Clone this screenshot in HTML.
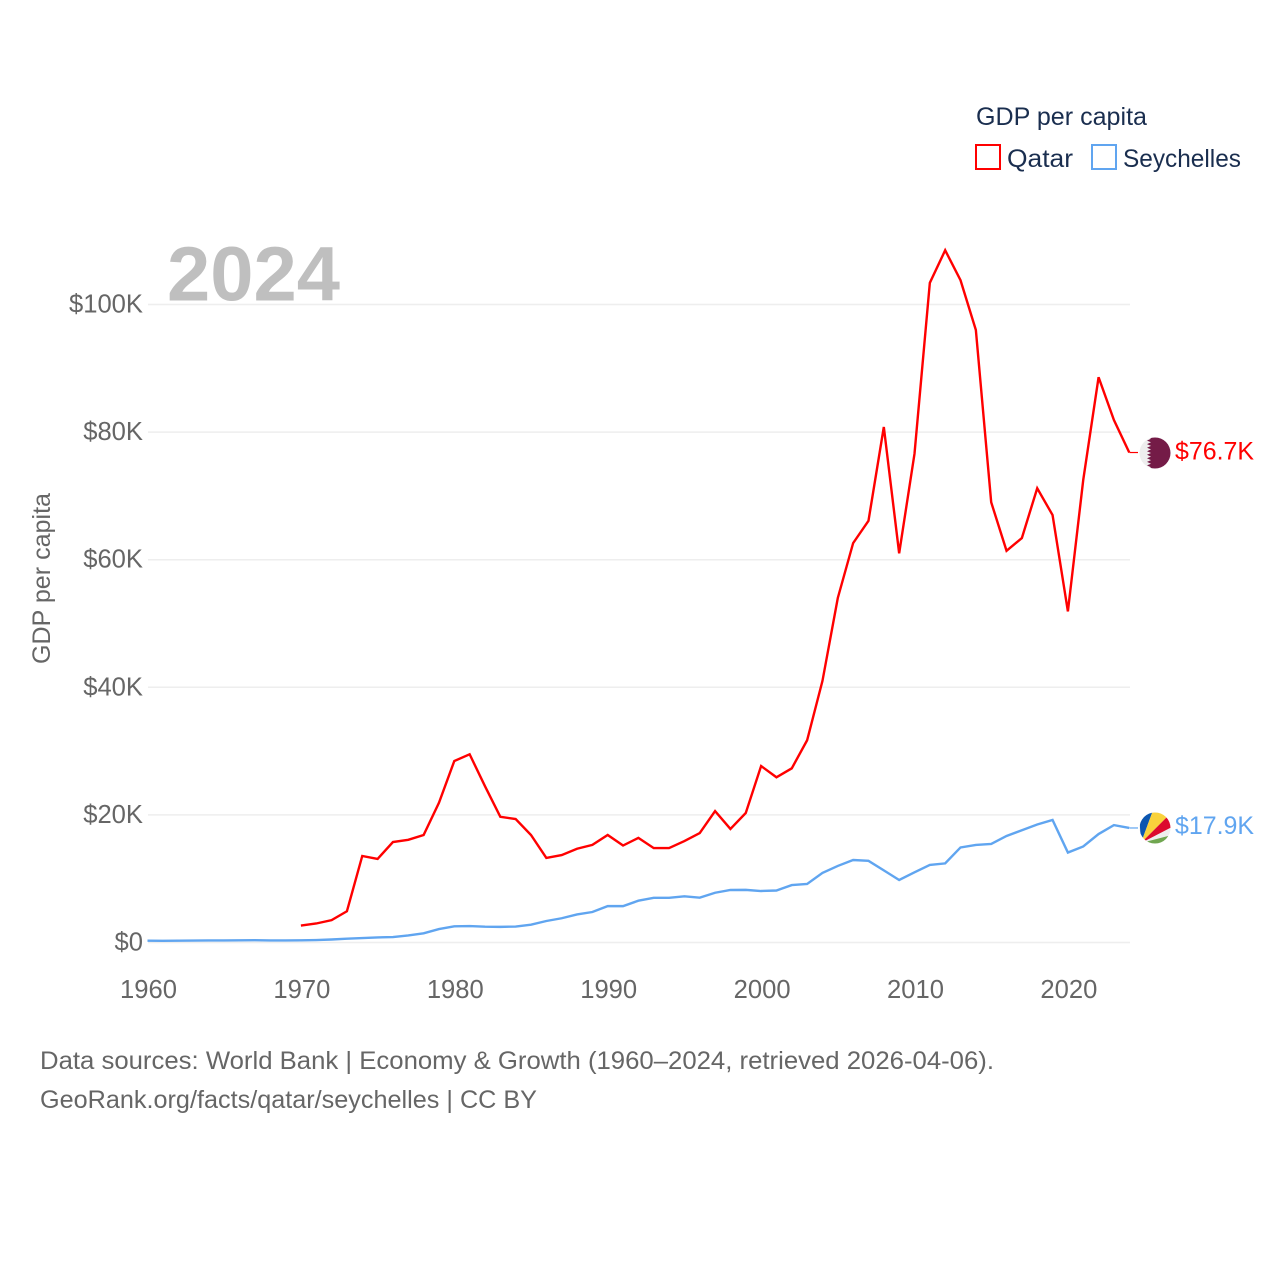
<!DOCTYPE html>
<html lang="en">
<head>
<meta charset="utf-8">
<title>GDP per capita: Qatar and Seychelles</title>
<style>
html,body{margin:0;padding:0;background:#fff;}
svg{display:block;font-family:"Liberation Sans",sans-serif;}
</style>
</head>
<body>
<svg id="chart" width="1280" height="1280" viewBox="0 0 1280 1280" xmlns="http://www.w3.org/2000/svg">
  <defs>
    <clipPath id="clip-qatar"><circle cx="1155" cy="453" r="15.5"/></clipPath>
    <clipPath id="clip-seychelles"><circle cx="1155" cy="828" r="15.5"/></clipPath>
  </defs>
  <rect width="1280" height="1280" fill="#ffffff"/>
  <g id="grid"></g>
  <g id="yticks"></g>
  <g id="xticks"></g>
  <text x="167" y="300.5" font-size="77" font-weight="700" fill="#bfbfbf" textLength="173" lengthAdjust="spacingAndGlyphs">2024</text>
  <text transform="translate(50,578.5) rotate(-90)" text-anchor="middle" font-size="25" fill="#666666" textLength="171" lengthAdjust="spacingAndGlyphs">GDP per capita</text>
  <g id="series"></g>

  <g>
    <text x="976" y="125" font-size="25" fill="#1a2e4f" textLength="171" lengthAdjust="spacingAndGlyphs">GDP per capita</text>
    <rect x="976" y="145" width="24" height="24" fill="none" stroke="#ff0000" stroke-width="2"/>
    <text x="1007" y="167" font-size="25" fill="#1a2e4f" textLength="66" lengthAdjust="spacingAndGlyphs">Qatar</text>
    <rect x="1092" y="145" width="24" height="24" fill="none" stroke="#60a5f0" stroke-width="2"/>
    <text x="1123" y="167" font-size="25" fill="#1a2e4f" textLength="118" lengthAdjust="spacingAndGlyphs">Seychelles</text>
  </g>

  <g clip-path="url(#clip-qatar)">
    <rect x="1139" y="437" width="32" height="32" fill="#eeeeee"/>
    <polygon fill="#741b47" points="1171,437 1147,437 1151,438.8 1147,440.6 1151,442.3 1147,444.1 1151,445.9 1147,447.7 1151,449.4 1147,451.2 1151,453 1147,454.8 1151,456.6 1147,458.3 1151,460.1 1147,461.9 1151,463.7 1147,465.4 1151,467.2 1147,469 1171,469"/>
  </g>
  <g clip-path="url(#clip-seychelles)">
    <rect x="1139" y="812" width="33" height="33" fill="#eeeeee"/>
    <polygon fill="#0b56b0" points="1141,843 1139,812 1152.4,812"/>
    <polygon fill="#f9d23c" points="1141,843 1152.4,812 1172,812"/>
    <polygon fill="#dc0a2e" points="1141,843 1171,813 1172,827"/>
    <polygon fill="#70a650" points="1141,843 1172,835 1172,845 1141,845"/>
  </g>

  <g id="end-labels"></g>

  <text x="40" y="1069" font-size="25" fill="#666666" textLength="954" lengthAdjust="spacingAndGlyphs">Data sources: World Bank | Economy &amp; Growth (1960–2024, retrieved 2026-04-06).</text>
  <text x="40" y="1108" font-size="25" fill="#666666" textLength="497" lengthAdjust="spacingAndGlyphs">GeoRank.org/facts/qatar/seychelles | CC BY</text>
</svg>
<script>
var xTickYears = [1960, 1970, 1980, 1990, 2000, 2010, 2020];
var yTickValues = [0, 20, 40, 60, 80, 100];
var yTickLabels = ["$0", "$20K", "$40K", "$60K", "$80K", "$100K"];
var qatarStartYear = 1970;
var qatarValues = [2.66, 2.98, 3.5, 4.9, 13.56, 13.1, 15.75, 16.1, 16.85, 21.9, 28.45, 29.5, 24.5, 19.7, 19.35, 16.85, 13.25, 13.7, 14.7, 15.3, 16.85, 15.2, 16.4, 14.8, 14.8, 15.9, 17.15, 20.6, 17.8, 20.3, 27.66, 25.9, 27.3, 31.7, 41, 54, 62.6, 66.1, 80.8, 61, 76.6, 103.4, 108.5, 103.8, 96, 69, 61.4, 63.4, 71.2, 67, 51.9, 72.5, 88.6, 81.9, 76.8];
var seychellesStartYear = 1960;
var seychellesValues = [0.28, 0.27, 0.29, 0.31, 0.32, 0.33, 0.35, 0.36, 0.33, 0.33, 0.34, 0.38, 0.47, 0.6, 0.7, 0.8, 0.85, 1.1, 1.44, 2.1, 2.53, 2.58, 2.48, 2.45, 2.5, 2.8, 3.37, 3.8, 4.4, 4.78, 5.7, 5.7, 6.55, 7, 7, 7.24, 7.03, 7.8, 8.23, 8.25, 8.07, 8.15, 9, 9.17, 10.9, 12, 12.93, 12.8, 11.3, 9.8, 11, 12.15, 12.4, 14.9, 15.3, 15.45, 16.7, 17.6, 18.5, 19.2, 14.1, 15.05, 17, 18.4, 17.95];
var qatarEndLabel = "$76.7K";
var seychellesEndLabel = "$17.9K";

var NS = "http://www.w3.org/2000/svg";
function xScale(year) { return 147.5 + (year - 1960) * 15.34; }
function yScale(value) { return 942.5 - value * 6.38; }
function make(tag, parentId) {
  var el = document.createElementNS(NS, tag);
  document.getElementById(parentId).appendChild(el);
  return el;
}

yTickValues.forEach(function (value, i) {
  var line = make("line", "grid");
  
  
  line.setAttribute("x1", 148);
  line.setAttribute("x2", 1130);
  line.setAttribute("y1", yScale(value));
  line.setAttribute("y2", yScale(value));
  line.setAttribute("stroke", "#eeeeee");
  line.setAttribute("stroke-width", 1.5);

  var label = make("text", "yticks");
  
  
  label.setAttribute("x", 143);
  label.setAttribute("y", yScale(value) + 8);
  label.setAttribute("text-anchor", "end");
  label.setAttribute("font-size", 25.6);
  label.setAttribute("fill", "#666666");
  label.textContent = yTickLabels[i];
});

xTickYears.forEach(function (year) {
  var label = make("text", "xticks");
  
  
  label.setAttribute("x", xScale(year) + 1);
  label.setAttribute("y", 998);
  label.setAttribute("text-anchor", "middle");
  label.setAttribute("font-size", 25.6);
  label.setAttribute("fill", "#666666");
  label.textContent = year;
});

function pointsFor(startYear, values) {
  return values.map(function (value, i) {
    return xScale(startYear + i).toFixed(2) + "," + yScale(value).toFixed(2);
  }).join(" ");
}

var seychellesLine = make("polyline", "series");


seychellesLine.setAttribute("points", pointsFor(seychellesStartYear, seychellesValues));
seychellesLine.setAttribute("fill", "none");
seychellesLine.setAttribute("stroke", "#60a5f0");
seychellesLine.setAttribute("stroke-width", 2.4);

var qatarLine = make("polyline", "series");


qatarLine.setAttribute("points", pointsFor(qatarStartYear, qatarValues));
qatarLine.setAttribute("fill", "none");
qatarLine.setAttribute("stroke", "#ff0000");
qatarLine.setAttribute("stroke-width", 2.4);

var qatarLast = qatarValues[qatarValues.length - 1];
var seychellesLast = seychellesValues[seychellesValues.length - 1];

var qatarStub = make("line", "series");


qatarStub.setAttribute("x1", 1129.5);
qatarStub.setAttribute("x2", 1138);
qatarStub.setAttribute("y1", yScale(qatarLast));
qatarStub.setAttribute("y2", yScale(qatarLast));
qatarStub.setAttribute("stroke", "#ff0000");
qatarStub.setAttribute("stroke-width", 1.2);

var seychellesStub = make("line", "series");


seychellesStub.setAttribute("x1", 1129.5);
seychellesStub.setAttribute("x2", 1138);
seychellesStub.setAttribute("y1", yScale(seychellesLast));
seychellesStub.setAttribute("y2", yScale(seychellesLast));
seychellesStub.setAttribute("stroke", "#60a5f0");
seychellesStub.setAttribute("stroke-width", 1.2);

var qatarLabel = make("text", "end-labels");


qatarLabel.setAttribute("x", 1175);
qatarLabel.setAttribute("y", yScale(qatarLast) + 7);
qatarLabel.setAttribute("font-size", 25);
qatarLabel.setAttribute("fill", "#ff0000");
qatarLabel.setAttribute("textLength", 79);
qatarLabel.setAttribute("lengthAdjust", "spacingAndGlyphs");
qatarLabel.textContent = qatarEndLabel;

var seychellesLabel = make("text", "end-labels");


seychellesLabel.setAttribute("x", 1175);
seychellesLabel.setAttribute("y", yScale(seychellesLast) + 6);
seychellesLabel.setAttribute("font-size", 25);
seychellesLabel.setAttribute("fill", "#60a5f0");
seychellesLabel.setAttribute("textLength", 79);
seychellesLabel.setAttribute("lengthAdjust", "spacingAndGlyphs");
seychellesLabel.textContent = seychellesEndLabel;
</script>
</body>
</html>
